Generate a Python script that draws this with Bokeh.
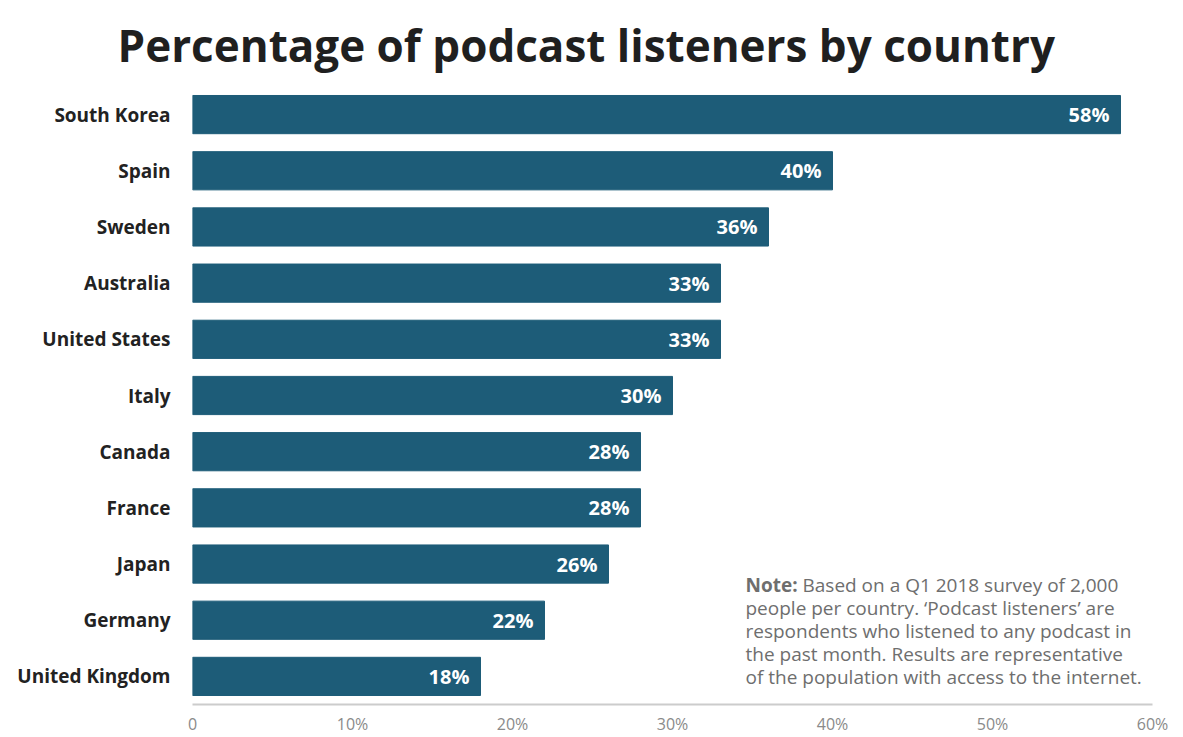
from bokeh.plotting import figure
from bokeh.models import ColumnDataSource, LabelSet, Label, FixedTicker, Range1d
from bokeh.core.properties import value
from bokeh.embed import file_html
from bokeh.resources import INLINE

countries = ["South Korea", "Spain", "Sweden", "Australia", "United States", "Italy",
             "Canada", "France", "Japan", "Germany", "United Kingdom"]
values = [58, 40, 36, 33, 33, 30, 28, 28, 26, 22, 18]
x_ticks = [0, 10, 20, 30, 40, 50, 60]
x_tick_labels = ["0", "10%", "20%", "30%", "40%", "50%", "60%"]
title_text = "Percentage of podcast listeners by country"
note_bold = "Note:"
note_lines = [
    "Based on a Q1 2018 survey of 2,000",
    "people per country. \u2018Podcast listeners\u2019 are",
    "respondents who listened to any podcast in",
    "the past month. Results are representative",
    "of the population with access to the internet.",
]

BAR = "#1d5c78"
FONT = "Open Sans"

src = ColumnDataSource(dict(country=countries, value=values,
                            label=[f"{v}%" for v in values]))

p = figure(width=1183, height=737, y_range=list(reversed(countries)),
           x_range=Range1d(0, 60), output_backend="svg", toolbar_location=None,
           min_border_left=192, min_border_right=31, min_border_top=85,
           min_border_bottom=29)

p.title.text = title_text
p.title.align = "left"
p.title.offset = -75
p.title.text_font = FONT
p.title.text_font_style = "bold"
p.title.text_font_size = "44px"
p.title.text_color = "#1f1f1f"
p.title.standoff = 24

p.hbar(y="country", right="value", left=0, height=0.68, color=BAR, source=src)

p.add_layout(LabelSet(x="value", y="country", text="label", x_offset=-11,
                      text_align="right", text_baseline="middle",
                      text_color="white", text_font=value(FONT),
                      text_font_style="bold", text_font_size="20px", source=src))

p.xgrid.visible = False
p.ygrid.visible = False
p.outline_line_color = None
p.background_fill_color = "white"
p.border_fill_color = "white"

p.xaxis.ticker = FixedTicker(ticks=x_ticks)
p.xaxis.major_label_overrides = {t: l for t, l in zip(x_ticks, x_tick_labels)}
p.xaxis.axis_line_color = "#cccccc"
p.xaxis.axis_line_width = 2
p.xaxis.major_tick_line_color = None
p.xaxis.minor_tick_line_color = None
p.xaxis.major_tick_out = 0
p.xaxis.major_tick_in = 0
p.xaxis.minor_tick_out = 0
p.xaxis.major_label_text_color = "#8a8a8a"
p.xaxis.major_label_text_font = FONT
p.xaxis.major_label_text_font_size = "16px"
p.xaxis.major_label_standoff = 8

p.yaxis.axis_line_color = None
p.yaxis.major_tick_line_color = None
p.yaxis.minor_tick_line_color = None
p.yaxis.major_tick_out = 0
p.yaxis.major_tick_in = 0
p.yaxis.minor_tick_out = 0
p.yaxis.major_label_standoff = 22
p.yaxis.major_label_text_font = FONT
p.yaxis.major_label_text_font_style = "bold"
p.yaxis.major_label_text_font_size = "19px"
p.yaxis.major_label_text_color = "#222222"

note_x = 553
note_y0 = 120
for i, line in enumerate(note_lines):
    x = note_x + (57 if i == 0 else 0)
    p.add_layout(Label(x=x, y=note_y0 - 23 * i, x_units="screen", y_units="screen",
                       text=line, text_baseline="alphabetic", text_font=FONT,
                       text_font_size="19px", text_color="#6e6e6e"))
p.add_layout(Label(x=note_x, y=note_y0, x_units="screen", y_units="screen",
                   text=note_bold, text_baseline="alphabetic", text_font=FONT,
                   text_font_style="bold", text_font_size="19px", text_color="#6e6e6e"))

open("out.html", "w").write(file_html(p, INLINE))
